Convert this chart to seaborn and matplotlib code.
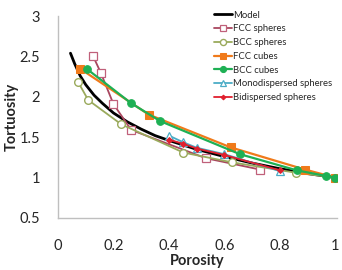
import matplotlib
matplotlib.use("Agg")
import matplotlib.pyplot as plt
import pandas as pd
import seaborn as sns

model_x = [0.045, 0.06, 0.08, 0.10, 0.13, 0.16, 0.20, 0.25, 0.30, 0.35, 0.40, 0.50, 0.60, 0.70, 0.80, 0.90, 1.00]
model_y = [2.54, 2.41, 2.26, 2.15, 2.02, 1.92, 1.80, 1.69, 1.60, 1.52, 1.46, 1.35, 1.26, 1.18, 1.11, 1.05, 1.00]

fcc_spheres_x = [0.127, 0.154, 0.200, 0.264, 0.533, 0.728]
fcc_spheres_y = [2.50, 2.30, 1.91, 1.59, 1.24, 1.10]

bcc_spheres_x = [0.073, 0.109, 0.228, 0.452, 0.626, 0.858, 1.0]
bcc_spheres_y = [2.18, 1.96, 1.66, 1.31, 1.19, 1.06, 1.0]

fcc_cubes_x = [0.079, 0.327, 0.622, 0.890, 1.0]
fcc_cubes_y = [2.35, 1.78, 1.375, 1.10, 1.0]

bcc_cubes_x = [0.106, 0.264, 0.368, 0.656, 0.861, 0.967, 1.0]
bcc_cubes_y = [2.34, 1.92, 1.70, 1.29, 1.09, 1.02, 1.0]

mono_x = [0.40, 0.45, 0.50, 0.60, 0.80]
mono_y = [1.52, 1.44, 1.37, 1.29, 1.08]

bidi_x = [0.40, 0.45, 0.50, 0.60, 0.80]
bidi_y = [1.47, 1.42, 1.36, 1.28, 1.09]

sns.set_style("white")
plt.rcParams["font.family"] = ["Lato", "DejaVu Sans"]

fig = plt.figure(figsize=(3.42, 2.70), dpi=100)
ax = fig.add_axes([0.1696, 0.1926, 0.815, 0.748])

series = [
    ("Model", model_x, model_y, dict(color="black", lw=2.0, marker=None)),
    ("FCC spheres", fcc_spheres_x, fcc_spheres_y,
     dict(color="#A9475F", lw=1.3, marker="s", ms=5.5, mfc="white", mec="#C0607A", mew=0.9)),
    ("BCC spheres", bcc_spheres_x, bcc_spheres_y,
     dict(color="#9AAA5C", lw=1.3, marker="o", ms=5.5, mfc="white", mec="#9AAA5C", mew=1.0)),
    ("FCC cubes", fcc_cubes_x, fcc_cubes_y,
     dict(color="#F07A1A", lw=1.6, marker="s", ms=5.5, mfc="#F07A1A", mec="#F07A1A")),
    ("BCC cubes", bcc_cubes_x, bcc_cubes_y,
     dict(color="#1EB054", lw=1.6, marker="o", ms=5.5, mfc="#1EB054", mec="#1EB054")),
    ("Monodispersed spheres", mono_x, mono_y,
     dict(color="#4BACC6", lw=1.3, marker="^", ms=5.5, mfc="white", mec="#4BACC6", mew=0.9)),
    ("Bidispersed spheres", bidi_x, bidi_y,
     dict(color="#E0202E", lw=1.3, marker="D", ms=3, mfc="#E0202E", mec="#E0202E")),
]

for name, xs, ys, style in series:
    frame = pd.DataFrame({"x": xs, "y": ys})
    sns.lineplot(data=frame, x="x", y="y", ax=ax, sort=False, estimator=None,
                 label=name, **style)

ax.set_xlim(0, 1.005)
ax.set_ylim(0.5, 3.0)
ax.set_xticks([0, 0.2, 0.4, 0.6, 0.8, 1.0])
ax.set_xticklabels(["0", "0.2", "0.4", "0.6", "0.8", "1"])
ax.set_yticks([0.5, 1, 1.5, 2, 2.5, 3])
ax.set_yticklabels(["0.5", "1", "1.5", "2", "2.5", "3"])

for side in ["top", "right"]:
    ax.spines[side].set_visible(False)
for side in ["left", "bottom"]:
    ax.spines[side].set_color("#BFBFBF")
    ax.spines[side].set_linewidth(1.0)

ax.tick_params(axis="x", direction="in", length=4, color="#BFBFBF", labelsize=10.5, pad=15)
ax.tick_params(axis="y", direction="out", length=4, color="#BFBFBF", labelsize=10.5, pad=9)

ax.set_xlabel("Porosity", fontsize=10.5, fontweight="bold")
ax.set_ylabel("Tortuosity", fontsize=10.5, fontweight="bold")
ax.xaxis.set_label_coords(0.5, -0.178)
ax.yaxis.set_label_coords(-0.14, 0.5)

ax.legend(loc="upper left", bbox_to_anchor=(0.605, 0.985), bbox_transform=fig.transFigure,
          frameon=False, fontsize=6.8, labelspacing=0.5, handlelength=2.0,
          handletextpad=0.1, borderpad=0.2, markerscale=0.8)

fig.savefig("out.png", dpi=100)
